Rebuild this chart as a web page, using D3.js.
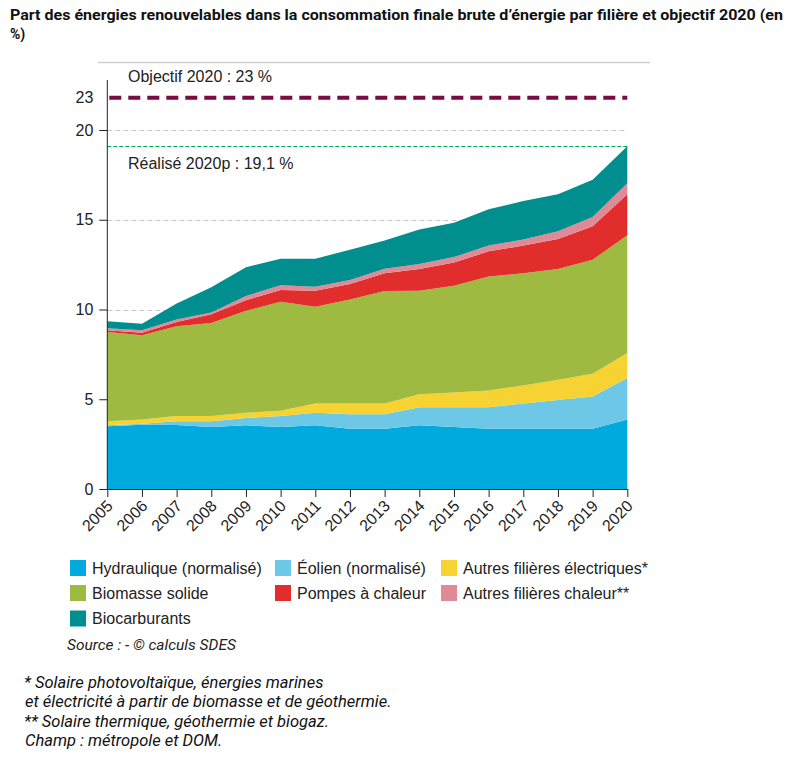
<!DOCTYPE html>
<html><head><meta charset="utf-8">
<script src="https://cdn.jsdelivr.net/npm/d3@7/dist/d3.min.js"></script>
<style>body{margin:0;background:#fff}svg{display:block}</style>
</head><body><svg id="c" width="810" height="759"></svg>
<script>
const years = [2005,2006,2007,2008,2009,2010,2011,2012,2013,2014,2015,2016,2017,2018,2019,2020];
const hydraulique = [3.49,3.58,3.57,3.45,3.55,3.45,3.55,3.36,3.36,3.55,3.45,3.36,3.36,3.36,3.36,3.87];
const eolien = [0.06,0.06,0.20,0.32,0.41,0.61,0.70,0.81,0.81,1.00,1.10,1.19,1.41,1.60,1.79,2.32];
const autresElec = [0.22,0.23,0.29,0.29,0.29,0.30,0.52,0.60,0.60,0.73,0.83,0.94,1.00,1.13,1.27,1.39];
const biomasse = [4.98,4.69,5.00,5.19,5.68,6.07,5.38,5.79,6.26,5.77,5.95,6.35,6.25,6.16,6.35,6.56];
const pompes = [0.09,0.15,0.25,0.49,0.59,0.66,0.90,0.86,0.99,1.20,1.29,1.40,1.54,1.68,1.87,2.28];
const autresChaleur = [0.11,0.13,0.13,0.09,0.23,0.26,0.22,0.23,0.25,0.28,0.30,0.32,0.34,0.43,0.51,0.62];
const biocarburants = [0.39,0.37,0.90,1.41,1.61,1.48,1.56,1.68,1.57,1.93,1.91,2.02,2.15,2.06,2.08,2.06];
const seriesNames = ["Hydraulique (normalisé)","Éolien (normalisé)","Autres filières électriques*","Biomasse solide","Pompes à chaleur","Autres filières chaleur**","Biocarburants"];
const seriesColors = ["#00aadf","#6dc8e8","#f6d232","#9fba40","#e22d2d","#e08a98","#008f8e"];
const yTicks = [0,5,10,15,20];
const objectif = 23;
const realise = 19.1;
const title1 = "Part des énergies renouvelables dans la consommation finale brute d’énergie par filière et objectif 2020 (en";
const title2 = "%)";
const source = "Source : - © calculs SDES";
const notes = ["* Solaire photovoltaïque, énergies marines","et électricité à partir de biomasse et de géothermie.","** Solaire thermique, géothermie et biogaz.","Champ : métropole et DOM."];

const allSeries = [hydraulique,eolien,autresElec,biomasse,pompes,autresChaleur,biocarburants];
const rows = years.map((y,i)=>{const r={year:y}; seriesNames.forEach((n,k)=>r[n]=allSeries[k][i]); return r;});

const svg = d3.select("#c");
const sans = "'Liberation Sans', Arial, sans-serif";
const L=107.3, R=627.3, B=489, T20=130, T23=97.7;
const x = d3.scalePoint().domain(years).range([L,R]);
const y = d3.scaleLinear().domain([0,20,23]).range([B,T20,T23]);

// title
svg.append("text").attr("x",10).attr("y",20).attr("font-family","Roboto, sans-serif").attr("font-weight",700)
  .attr("font-size",14).attr("fill","#111").attr("textLength",773).attr("lengthAdjust","spacingAndGlyphs").text(title1);
svg.append("text").attr("x",10).attr("y",39).attr("font-family","Roboto, sans-serif").attr("font-weight",700)
  .attr("font-size",14).attr("fill","#111").text(title2);

// top rule
svg.append("line").attr("x1",98).attr("x2",650).attr("y1",62.5).attr("y2",62.5).attr("stroke","#cfcfcf").attr("stroke-width",1.5);

// gridlines
svg.append("g").selectAll("line").data(yTicks.filter(d=>d>0)).join("line")
  .attr("x1",L).attr("x2",R).attr("y1",d=>Math.round(y(d))+0.5).attr("y2",d=>Math.round(y(d))+0.5)
  .attr("stroke","#c8c8c8").attr("stroke-dasharray","5,3");

// areas
const stack = d3.stack().keys(seriesNames)(rows);
const area = d3.area().x(d=>x(d.data.year)).y0(d=>y(d[0])).y1(d=>y(d[1]));
svg.append("g").selectAll("path").data(stack).join("path")
  .attr("d",area).attr("fill",(d,i)=>seriesColors[i]);

// objective lines
svg.append("line").attr("x1",L+2).attr("x2",R).attr("y1",y(objectif)).attr("y2",y(objectif))
  .attr("stroke","#7b0b45").attr("stroke-width",4).attr("stroke-dasharray","12,7");
svg.append("line").attr("x1",L).attr("x2",R).attr("y1",Math.round(y(realise))+0.5).attr("y2",Math.round(y(realise))+0.5)
  .attr("stroke","#00a85a").attr("stroke-width",1).attr("stroke-dasharray","4,2");

svg.append("text").attr("x",128).attr("y",82).attr("font-family",sans).attr("font-size",16).attr("fill","#222").text("Objectif 2020 : 23 %");
svg.append("text").attr("x",128).attr("y",169).attr("font-family",sans).attr("font-size",16).attr("fill","#222").text("Réalisé 2020p : 19,1 %");

// y axis
const ya = svg.append("g").attr("transform",`translate(${L},0)`)
  .call(d3.axisLeft(y).tickValues(yTicks).tickSize(8).tickPadding(6));
ya.select(".domain").remove();
ya.selectAll("line").attr("stroke","#222");
ya.selectAll("text").attr("font-family",sans).attr("font-size",16).attr("fill","#222");
svg.append("line").attr("x1",L).attr("x2",L).attr("y1",80).attr("y2",B).attr("stroke","#222").attr("stroke-width",1);
svg.append("text").attr("x",L-14).attr("y",y(objectif)).attr("dy","0.35em").attr("text-anchor","end")
  .attr("font-family",sans).attr("font-size",16).attr("fill","#222").text(objectif);

// x axis
const xa = svg.append("g").attr("transform",`translate(0,${B})`)
  .call(d3.axisBottom(x).tickSize(8).tickSizeOuter(0));
xa.select(".domain").attr("stroke","#222");
xa.selectAll("line").attr("stroke","#222");
xa.selectAll("text").attr("font-family",sans).attr("font-size",16).attr("fill","#222")
  .attr("text-anchor","end").attr("dy",null).attr("y",0)
  .attr("transform","translate(6,18) rotate(-45)");

// legend
const legCols = [70,275,441];
const legRows = [568,593,618.5];
const lg = svg.append("g").selectAll("g").data(seriesNames).join("g")
  .attr("transform",(d,i)=>`translate(${legCols[i%3]},${legRows[Math.floor(i/3)]})`);
lg.append("rect").attr("x",0).attr("y",-8).attr("width",16).attr("height",16).attr("fill",(d,i)=>seriesColors[i]);
lg.append("text").attr("x",22).attr("y",0).attr("dy","0.35em").attr("font-family",sans).attr("font-size",16).attr("fill","#222").text(d=>d);

svg.append("text").attr("x",67).attr("y",650).attr("font-family","Roboto, sans-serif").attr("font-style","italic")
  .attr("font-size",15.5).attr("fill","#222").text(source);
svg.append("g").selectAll("text").data(notes).join("text")
  .attr("x",(d,i)=>i===0||i===2?24:25).attr("y",(d,i)=>688+i*19.3)
  .attr("font-family","Roboto, sans-serif").attr("font-style","italic").attr("font-size",16.5).attr("fill","#111").text(d=>d);
</script></body></html>
